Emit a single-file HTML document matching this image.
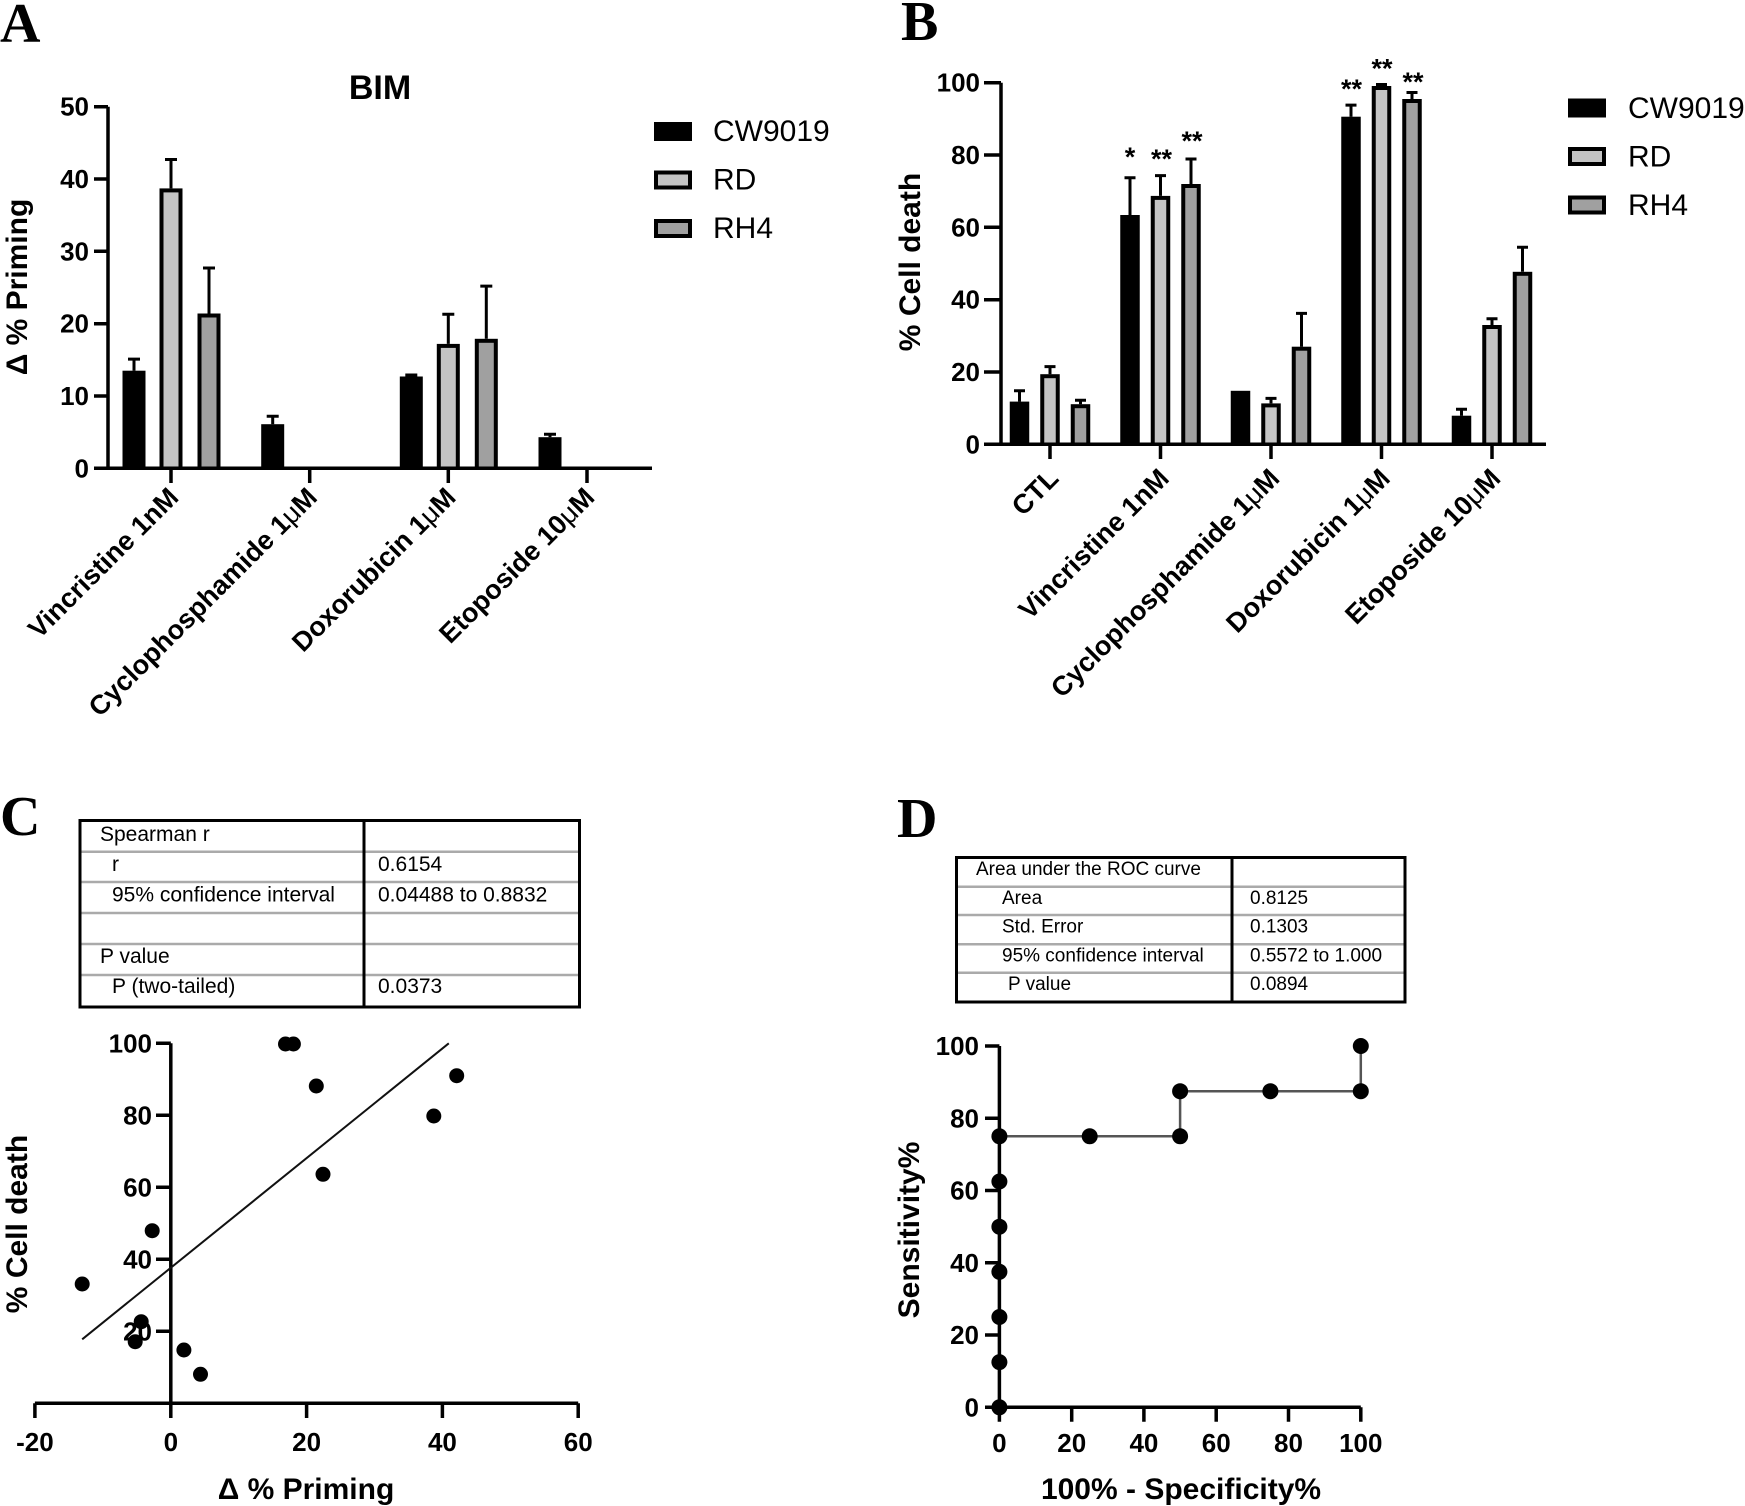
<!DOCTYPE html>
<html><head><meta charset="utf-8"><style>
html,body{margin:0;padding:0;background:#fff;}
svg{display:block;}
text{font-family:"Liberation Sans",Arial,sans-serif;fill:#000;}
.b{font-weight:bold;}
.pl{font-family:"Liberation Serif","Times New Roman",serif;font-weight:bold;font-size:56px;}
.tk{font-weight:bold;font-size:26px;}
.xl{font-weight:bold;font-size:27px;}
.ax{stroke:#000;stroke-width:3.5;fill:none;}
.eb{stroke:#000;stroke-width:3;fill:none;}
.rl{stroke:#aaa;stroke-width:2.5;}
</style></head><body>
<svg width="1745" height="1506" viewBox="0 0 1745 1506" xmlns="http://www.w3.org/2000/svg">
<rect width="1745" height="1506" fill="#fff"/>

<!-- ================= PANEL A ================= -->
<text class="pl" x="0" y="42">A</text>
<text class="b" x="380" y="99" font-size="34" text-anchor="middle">BIM</text>

<g>
<rect x="122.5" y="370.7" width="23" height="97.6" fill="#000"/>
<rect x="159.5" y="188.4" width="23" height="279.9" fill="#000"/><rect x="163.5" y="192.4" width="15" height="275.9" fill="#c4c4c4"/>
<rect x="197.5" y="313.5" width="23" height="154.8" fill="#000"/><rect x="201.5" y="317.5" width="15" height="150.8" fill="#a0a0a0"/>

<rect x="261.2" y="424.2" width="23" height="44.1" fill="#000"/>

<rect x="399.8" y="376.5" width="23" height="91.8" fill="#000"/>
<rect x="436.8" y="343.9" width="23" height="124.4" fill="#000"/><rect x="440.8" y="347.9" width="15" height="120.4" fill="#c4c4c4"/>
<rect x="474.8" y="338.8" width="23" height="129.5" fill="#000"/><rect x="478.8" y="342.8" width="15" height="125.5" fill="#a0a0a0"/>

<rect x="538.5" y="437.2" width="23" height="31.1" fill="#000"/>
</g>
<path class="eb" d="M134,370.7V359.1M128,359.1H140
M171,188.4V159.5M165,159.5H177
M209,313.5V268M203,268H215
M272.7,424.2V416.2M266.7,416.2H278.7
M411.3,376.5V375M405.3,375H417.3
M448.3,343.9V314.3M442.3,314.3H454.3
M486.3,338.8V286.1M480.3,286.1H492.3
M550,437.2V434.3M544,434.3H556"/>

<path class="ax" d="M108,106.7V468.3M94,468.3H652
M94,106.7H108M94,179H108M94,251.3H108M94,323.7H108M94,396H108
M171,468.3V483M309.7,468.3V483M448.3,468.3V483M587,468.3V483"/>
<g class="tk" text-anchor="end">
<text x="89" y="115.7">50</text>
<text x="89" y="188">40</text>
<text x="89" y="260.3">30</text>
<text x="89" y="332.7">20</text>
<text x="89" y="405">10</text>
<text x="89" y="477.3">0</text>
</g>
<text class="b" font-size="30" text-anchor="middle" transform="translate(27,287) rotate(-90)">Δ % Priming</text>
<g class="xl" text-anchor="end">
<text transform="translate(180,499) rotate(-45)">Vincristine 1nM</text>
<text transform="translate(318.7,499) rotate(-45)">Cyclophosphamide 1<tspan font-weight="normal">μ</tspan>M</text>
<text transform="translate(457.3,499) rotate(-45)">Doxorubicin 1<tspan font-weight="normal">μ</tspan>M</text>
<text transform="translate(596,499) rotate(-45)">Etoposide 10<tspan font-weight="normal">μ</tspan>M</text>
</g>

<rect x="654" y="122" width="38" height="19" fill="#000"/>
<rect x="654" y="170.5" width="38" height="19" fill="#000"/><rect x="658" y="174.5" width="30" height="11" fill="#c4c4c4"/>
<rect x="654" y="219" width="38" height="19" fill="#000"/><rect x="658" y="223" width="30" height="11" fill="#a0a0a0"/>
<g font-size="30">
<text x="713" y="141">CW9019</text>
<text x="713" y="189.5">RD</text>
<text x="713" y="238">RH4</text>
</g>

<!-- ================= PANEL B ================= -->
<text class="pl" x="901" y="40">B</text>
<g>
<rect x="1009.75" y="401.6" width="19.5" height="42.7" fill="#000"/>
<rect x="1040.25" y="374.2" width="19.5" height="70.1" fill="#000"/><rect x="1044.25" y="378.2" width="11.5" height="66.1" fill="#c4c4c4"/>
<rect x="1070.75" y="404.2" width="19.5" height="40.1" fill="#000"/><rect x="1074.75" y="408.2" width="11.5" height="36.1" fill="#a0a0a0"/>
<rect x="1120.25" y="215" width="19.5" height="229.3" fill="#000"/>
<rect x="1150.75" y="195.9" width="19.5" height="248.4" fill="#000"/><rect x="1154.75" y="199.9" width="11.5" height="244.4" fill="#c4c4c4"/>
<rect x="1181.25" y="184" width="19.5" height="260.3" fill="#000"/><rect x="1185.25" y="188" width="11.5" height="256.3" fill="#a0a0a0"/>
<rect x="1230.75" y="390.8" width="19.5" height="53.5" fill="#000"/>
<rect x="1261.25" y="403.4" width="19.5" height="40.9" fill="#000"/><rect x="1265.25" y="407.4" width="11.5" height="36.9" fill="#c4c4c4"/>
<rect x="1291.75" y="346.7" width="19.5" height="97.6" fill="#000"/><rect x="1295.75" y="350.7" width="11.5" height="93.6" fill="#a0a0a0"/>
<rect x="1341.25" y="116.7" width="19.5" height="327.6" fill="#000"/>
<rect x="1371.75" y="86" width="19.5" height="358.3" fill="#000"/><rect x="1375.75" y="90" width="11.5" height="354.3" fill="#c4c4c4"/>
<rect x="1402.25" y="99" width="19.5" height="345.3" fill="#000"/><rect x="1406.25" y="103" width="11.5" height="341.3" fill="#a0a0a0"/>
<rect x="1451.75" y="415.7" width="19.5" height="28.6" fill="#000"/>
<rect x="1482.25" y="325" width="19.5" height="119.3" fill="#000"/><rect x="1486.25" y="329" width="11.5" height="115.3" fill="#c4c4c4"/>
<rect x="1512.75" y="271.8" width="19.5" height="172.5" fill="#000"/><rect x="1516.75" y="275.8" width="11.5" height="168.5" fill="#a0a0a0"/>
</g>
<path class="eb" d="M1019.5,401.6V390.8M1014,390.8H1025
M1050,374.2V366.6M1044.5,366.6H1055.5
M1080.5,404.2V400.2M1075,400.2H1086
M1130,215V177.8M1124.5,177.8H1135.5
M1160.5,195.9V175.6M1155,175.6H1166
M1191,184V159M1185.5,159H1196.5
M1271,403.4V398.4M1265.5,398.4H1276.5
M1301.5,346.7V313.4M1296,313.4H1307
M1351,116.7V105.1M1345.5,105.1H1356.5
M1381.5,86V84.5M1376,84.5H1387
M1412,99V92.5M1406.5,92.5H1417.5
M1461.5,415.7V409.2M1456,409.2H1467
M1492,325V318.8M1486.5,318.8H1497.5
M1522.5,271.8V247.2M1517,247.2H1528"/>
<g font-size="27" font-weight="bold" text-anchor="middle">
<text x="1130" y="166">*</text>
<text x="1161.5" y="168">**</text>
<text x="1192" y="150">**</text>
<text x="1351.5" y="98">**</text>
<text x="1382" y="77.5">**</text>
<text x="1413" y="91">**</text>
</g>
<path class="ax" d="M1001,82.7V444.3M984,444.3H1546
M984,82.7H1001M984,155H1001M984,227.3H1001M984,299.7H1001M984,372H1001
M1050,444.3V459M1160.5,444.3V459M1271,444.3V459M1381.5,444.3V459M1492,444.3V459"/>
<g class="tk" text-anchor="end">
<text x="980" y="91.7">100</text>
<text x="980" y="164">80</text>
<text x="980" y="236.3">60</text>
<text x="980" y="308.7">40</text>
<text x="980" y="381">20</text>
<text x="980" y="453.3">0</text>
</g>
<text class="b" font-size="30" text-anchor="middle" transform="translate(920,262) rotate(-90)">% Cell death</text>
<g class="xl" text-anchor="end">
<text transform="translate(1060,480) rotate(-45)">CTL</text>
<text transform="translate(1170.5,480) rotate(-45)">Vincristine 1nM</text>
<text transform="translate(1281,480) rotate(-45)">Cyclophosphamide 1<tspan font-weight="normal">μ</tspan>M</text>
<text transform="translate(1391.5,480) rotate(-45)">Doxorubicin 1<tspan font-weight="normal">μ</tspan>M</text>
<text transform="translate(1502,480) rotate(-45)">Etoposide 10<tspan font-weight="normal">μ</tspan>M</text>
</g>
<rect x="1568" y="98.5" width="38" height="19" fill="#000"/>
<rect x="1568" y="147" width="38" height="19" fill="#000"/><rect x="1572" y="151" width="30" height="11" fill="#c4c4c4"/>
<rect x="1568" y="195.5" width="38" height="19" fill="#000"/><rect x="1572" y="199.5" width="30" height="11" fill="#a0a0a0"/>
<g font-size="30">
<text x="1628" y="118">CW9019</text>
<text x="1628" y="166.5">RD</text>
<text x="1628" y="215">RH4</text>
</g>

<!-- ================= PANEL C ================= -->
<text class="pl" x="0" y="835">C</text>
<path class="rl" d="M81.5,851.7H578M81.5,882H578M81.5,913H578M81.5,944H578M81.5,975H578"/>
<rect x="80" y="820.5" width="499.5" height="186.5" fill="none" stroke="#000" stroke-width="3"/>
<path d="M364,820.5V1007" stroke="#000" stroke-width="3"/>
<g font-size="21">
<text x="100" y="841">Spearman r</text>
<text x="112" y="871">r</text>
<text x="112" y="901.5">95% confidence interval</text>
<text x="100" y="963">P value</text>
<text x="112" y="993">P (two-tailed)</text>
<text x="378" y="871">0.6154</text>
<text x="378" y="901.5">0.04488 to 0.8832</text>
<text x="378" y="993">0.0373</text>
</g>
<path class="ax" d="M170.8,1043.3V1403.3M34.9,1403.3H578.2
M156,1043.3H170.8M156,1115.3H170.8M156,1187.3H170.8M156,1259.3H170.8M156,1331.3H170.8
M34.9,1403.3V1418M170.8,1403.3V1418M306.6,1403.3V1418M442.4,1403.3V1418M578.2,1403.3V1418"/>
<g class="tk" text-anchor="end">
<text x="152" y="1052.3">100</text>
<text x="152" y="1124.3">80</text>
<text x="152" y="1196.3">60</text>
<text x="152" y="1268.3">40</text>
<text x="152" y="1340.3">20</text>
</g>
<g class="tk" text-anchor="middle">
<text x="34.9" y="1451">-20</text>
<text x="170.8" y="1451">0</text>
<text x="306.6" y="1451">20</text>
<text x="442.4" y="1451">40</text>
<text x="578.2" y="1451">60</text>
</g>
<path d="M82.2,1339.3L448.8,1043.3" stroke="#111" stroke-width="2" fill="none"/>
<g fill="#000">
<circle cx="285.5" cy="1044" r="7.5"/><circle cx="293.4" cy="1044" r="7.5"/>
<circle cx="316.3" cy="1086" r="7.5"/>
<circle cx="456.7" cy="1075.7" r="7.5"/>
<circle cx="433.8" cy="1116" r="7.5"/>
<circle cx="323" cy="1174.3" r="7.5"/>
<circle cx="152.2" cy="1230.7" r="7.5"/>
<circle cx="82.2" cy="1284" r="7.5"/>
<circle cx="141.2" cy="1321.7" r="7.5"/>
<circle cx="135.2" cy="1341.7" r="7.5"/>
<circle cx="183.9" cy="1350" r="7.5"/>
<circle cx="200.5" cy="1374.3" r="7.5"/>
</g>
<text class="b" font-size="30" text-anchor="middle" x="306" y="1499">Δ % Priming</text>
<text class="b" font-size="30" text-anchor="middle" transform="translate(27,1224) rotate(-90)">% Cell death</text>

<!-- ================= PANEL D ================= -->
<text class="pl" x="897" y="837">D</text>
<path class="rl" d="M958,886.7H1403.5M958,915H1403.5M958,944.3H1403.5M958,972.7H1403.5"/>
<rect x="956.5" y="857.5" width="448.5" height="144.5" fill="none" stroke="#000" stroke-width="3"/>
<path d="M1232,857.5V1002" stroke="#000" stroke-width="3"/>
<g font-size="19">
<text x="976" y="875">Area under the ROC curve</text>
<text x="1002" y="904">Area</text>
<text x="1002" y="932.7">Std. Error</text>
<text x="1002" y="961.7">95% confidence interval</text>
<text x="1008" y="990">P value</text>
<text x="1250" y="904">0.8125</text>
<text x="1250" y="932.7">0.1303</text>
<text x="1250" y="961.7">0.5572 to 1.000</text>
<text x="1250" y="990">0.0894</text>
</g>
<path d="M999.4,1407.3V1136.3H1180.1V1091.2H1360.8V1046" stroke="#555" stroke-width="2.5" fill="none"/>
<path class="ax" d="M999.4,1046V1407.3M985,1407.3H1360.8
M985,1046H999.4M985,1118.3H999.4M985,1190.5H999.4M985,1262.8H999.4M985,1335H999.4
M999.4,1407.3V1421.7M1071.7,1407.3V1421.7M1143.9,1407.3V1421.7M1216.2,1407.3V1421.7M1288.5,1407.3V1421.7M1360.8,1407.3V1421.7"/>
<g class="tk" text-anchor="end">
<text x="979" y="1055">100</text>
<text x="979" y="1127.3">80</text>
<text x="979" y="1199.5">60</text>
<text x="979" y="1271.8">40</text>
<text x="979" y="1344">20</text>
<text x="979" y="1416.3">0</text>
</g>
<g class="tk" text-anchor="middle">
<text x="999.4" y="1452">0</text>
<text x="1071.7" y="1452">20</text>
<text x="1143.9" y="1452">40</text>
<text x="1216.2" y="1452">60</text>
<text x="1288.5" y="1452">80</text>
<text x="1360.8" y="1452">100</text>
</g>
<g fill="#000">
<circle cx="999.4" cy="1407.3" r="8"/>
<circle cx="999.4" cy="1362.1" r="8"/>
<circle cx="999.4" cy="1317" r="8"/>
<circle cx="999.4" cy="1271.8" r="8"/>
<circle cx="999.4" cy="1226.7" r="8"/>
<circle cx="999.4" cy="1181.5" r="8"/>
<circle cx="999.4" cy="1136.3" r="8"/>
<circle cx="1089.7" cy="1136.3" r="8"/>
<circle cx="1180.1" cy="1136.3" r="8"/>
<circle cx="1180.1" cy="1091.2" r="8"/>
<circle cx="1270.4" cy="1091.2" r="8"/>
<circle cx="1360.8" cy="1091.2" r="8"/>
<circle cx="1360.8" cy="1046" r="8"/>
</g>
<text class="b" font-size="30" text-anchor="middle" x="1181" y="1499">100% - Specificity%</text>
<text class="b" font-size="30" text-anchor="middle" transform="translate(919,1230) rotate(-90)">Sensitivity%</text>
</svg>
</body></html>
